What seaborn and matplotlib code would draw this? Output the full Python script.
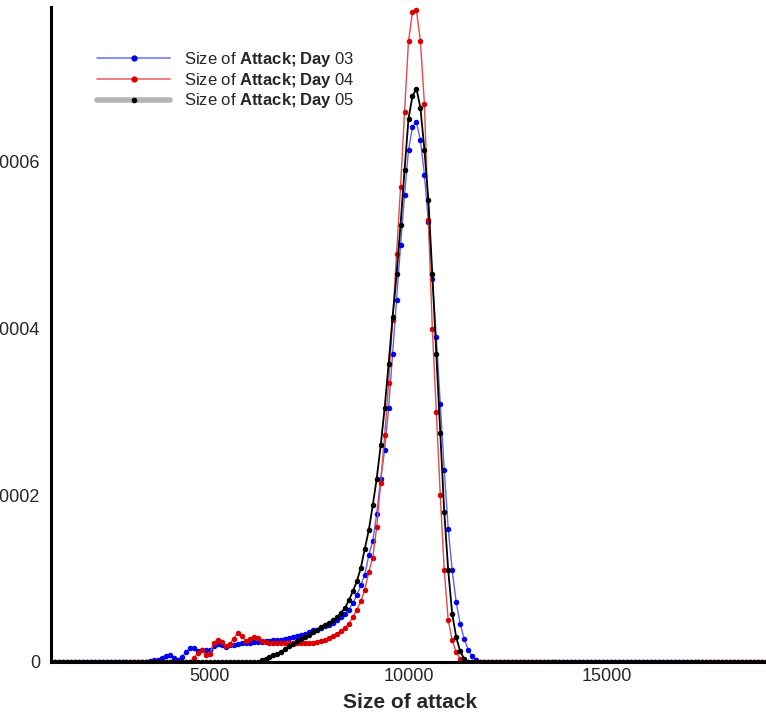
import numpy as np
import pandas as pd
import matplotlib
matplotlib.use('Agg')
import matplotlib.pyplot as plt
import seaborn as sns
from matplotlib.lines import Line2D
from matplotlib.ticker import MultipleLocator, FuncFormatter

# attack size grid (step 100) and density values, in units of 1e-4
SIZE_GRID = np.arange(1000, 19001, 100)

DAY03_START = 3400
DAY03_VALS = [0.00, 0.01, 0.02, 0.03, 0.05, 0.07, 0.08, 0.05, 0.03, 0.06,
              0.12, 0.17, 0.17, 0.13, 0.14, 0.15, 0.14, 0.19, 0.22, 0.20,
              0.18, 0.20, 0.21, 0.22, 0.23, 0.23, 0.23, 0.24, 0.24, 0.24,
              0.25, 0.25, 0.26, 0.26, 0.27, 0.28, 0.29, 0.30, 0.31, 0.33,
              0.34, 0.36, 0.38, 0.39, 0.41, 0.43, 0.45, 0.47, 0.50, 0.54,
              0.58, 0.63, 0.71, 0.80, 0.92, 1.05, 1.28, 1.45, 1.78, 2.20,
              2.55, 3.05, 3.70, 4.35, 5.00, 5.60, 6.14, 6.42, 6.48, 6.26,
              5.85, 5.28, 4.60, 3.90, 3.10, 2.30, 1.60, 1.10, 0.72, 0.46,
              0.28, 0.15, 0.07, 0.02, 0.00]

DAY04_START = 4500
DAY04_VALS = [0.00, 0.05, 0.11, 0.14, 0.08, 0.10, 0.23, 0.27, 0.24, 0.19,
              0.22, 0.28, 0.35, 0.31, 0.25, 0.28, 0.30, 0.29, 0.25, 0.24,
              0.23, 0.23, 0.23, 0.23, 0.23, 0.23, 0.23, 0.23, 0.23, 0.23,
              0.23, 0.23, 0.24, 0.25, 0.27, 0.29, 0.31, 0.34, 0.37, 0.41,
              0.46, 0.54, 0.63, 0.73, 0.87, 1.08, 1.25, 1.62, 2.15, 2.72,
              3.35, 4.10, 4.90, 5.70, 6.60, 7.45, 7.80, 7.82, 7.45, 6.70,
              5.30, 4.00, 3.00, 2.00, 1.10, 0.50, 0.26, 0.12, 0.04, 0.01,
              0.00]

DAY05_START = 6200
DAY05_VALS = [0.00, 0.02, 0.04, 0.06, 0.08, 0.10, 0.12, 0.16, 0.19, 0.22,
              0.25, 0.28, 0.30, 0.33, 0.36, 0.39, 0.42, 0.45, 0.47, 0.50,
              0.54, 0.59, 0.65, 0.74, 0.85, 0.97, 1.13, 1.36, 1.58, 1.88,
              2.20, 2.60, 3.05, 3.58, 4.14, 4.65, 5.25, 5.90, 6.52, 6.79,
              6.88, 6.65, 6.15, 5.55, 4.65, 3.70, 2.75, 1.80, 1.10, 0.58,
              0.30, 0.13, 0.04, 0.00]

LABELS = [r'Size of $\mathbf{Attack;Day}$ 03',
          r'Size of $\mathbf{Attack;Day}$ 04',
          r'Size of $\mathbf{Attack;Day}$ 05']


def full_series(start, vals):
    # values outside the listed range sit on zero in the chart
    dens = np.zeros(len(SIZE_GRID))
    i = (start - SIZE_GRID[0]) // 100
    dens[i:i + len(vals)] = np.array(vals) * 1e-4
    return dens


sns.set_style('white')
plt.rcParams['font.family'] = ['Liberation Sans', 'DejaVu Sans']
plt.rcParams['mathtext.fontset'] = 'custom'
plt.rcParams['mathtext.rm'] = 'Liberation Sans'
plt.rcParams['mathtext.bf'] = 'Liberation Sans:bold'

fig = plt.figure(figsize=(7.66, 7.14), dpi=100)
ax = fig.add_axes([51 / 766, 52 / 714, 1 - 51 / 766, 655 / 714])

styles = [
    (DAY03_START, DAY03_VALS, '#6060ff', '#0000f0', 1.0),
    (DAY04_START, DAY04_VALS, '#e84848', '#d80000', 1.0),
    (DAY05_START, DAY05_VALS, '#000000', '#000000', 1.3),
]

for (start, vals, lc, mc, lw), label in zip(styles, LABELS):
    df = pd.DataFrame({'size': SIZE_GRID, 'density': full_series(start, vals)})
    sns.lineplot(data=df, x='size', y='density', ax=ax, color=lc, lw=lw,
                 marker='o', markersize=3.2, markerfacecolor=mc, markeredgecolor=mc,
                 errorbar=None, legend=False)

ax.set_xlim(1000, 19000)
ax.set_ylim(0, 0.000786)

ax.xaxis.set_major_locator(MultipleLocator(5000))
ax.xaxis.set_minor_locator(MultipleLocator(1000))
ax.yaxis.set_major_locator(MultipleLocator(0.0002))
ax.yaxis.set_minor_locator(MultipleLocator(0.00005))
ax.yaxis.set_major_formatter(FuncFormatter(lambda v, _: '0' if abs(v) < 1e-12 else f'{v:.4f}'))

ax.tick_params(which='major', direction='in', length=11.5, width=1.8, color='black', labelsize=13)
ax.tick_params(which='minor', direction='in', length=6, width=0.8, color='#8a8a8a')
ax.tick_params(axis='x', which='major', pad=4)
ax.tick_params(axis='y', which='major', pad=8)

for side in ['top', 'right']:
    ax.spines[side].set_visible(False)
for side in ['left', 'bottom']:
    ax.spines[side].set_linewidth(2.2)
    ax.spines[side].set_color('black')

ax.set_ylabel('')
ax.set_xlabel('Size of attack', fontsize=15, fontweight='bold')
ax.xaxis.set_label_coords(0.502, -0.048)

handles = [
    Line2D([], [], color='#7777ff', lw=1.2, marker='o', ms=3.5, mfc='#0000f0', mec='#0000f0'),
    Line2D([], [], color='#ee6666', lw=1.2, marker='o', ms=3.5, mfc='#d80000', mec='#d80000'),
    Line2D([], [], color='#b4b4b4', lw=4, marker='o', ms=3, mfc='black', mec='black'),
]
ax.legend(handles, LABELS, loc='upper left', bbox_to_anchor=(97 / 766, 1 - 50 / 714),
          bbox_transform=fig.transFigure, frameon=False, fontsize=12, borderpad=0,
          borderaxespad=0, handlelength=4.4, handletextpad=0.8, labelspacing=0.1)

fig.savefig('out.png', dpi=100)
